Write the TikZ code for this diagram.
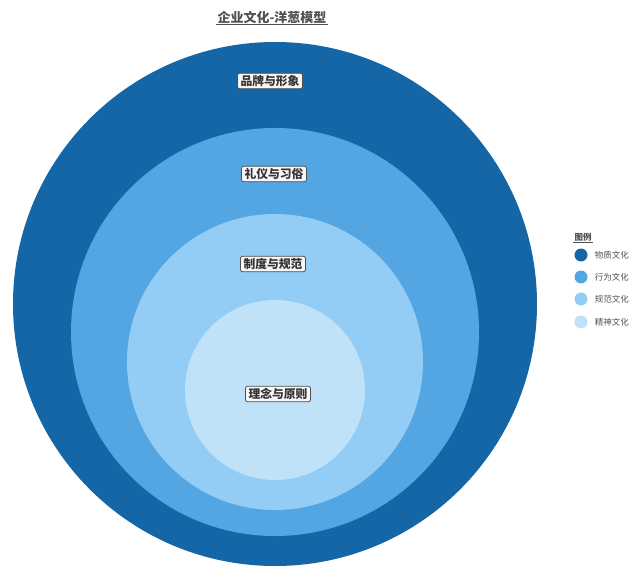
\documentclass[tikz,border=0pt]{standalone}
\usepackage{fontspec}
\setmainfont{Noto Sans CJK SC}
\usetikzlibrary{positioning}

\definecolor{wuzhi}{RGB}{21,102,166}
\definecolor{xingwei}{RGB}{84,166,226}
\definecolor{zhidu}{RGB}{147,205,245}
\definecolor{linian}{RGB}{192,226,249}
\definecolor{txtgray}{RGB}{80,80,80}

\tikzset{
  layer/.style={circle, inner sep=0pt},
  tag/.style={draw=txtgray, fill=gray!6, rounded corners=2pt, line width=0.8pt,
    inner xsep=3pt, inner ysep=2pt, text=black!80,
    font=\bfseries\fontsize{11.8}{14}\selectfont},
  keydot/.style={circle, inner sep=0pt, minimum size=13pt},
  keytext/.style={text=txtgray, font=\fontsize{8.5}{10}\selectfont, inner sep=1pt}
}

\begin{document}
\begin{tikzpicture}[x=1pt, y=-1pt]
            \useasboundingbox (0,0) rectangle (640,572);

            % Title
            \node[text=txtgray, font=\bfseries\fontsize{13}{15}\selectfont, inner sep=1pt] (title) at (272,17) {企业文化-洋葱模型};
            \draw[txtgray, line width=0.7pt] (title.south west) -- (title.south east);

            % Layers
            \node[layer, fill=wuzhi, minimum size=524pt] (l1) at (275,304) {};
            \node[layer, fill=xingwei, minimum size=408pt] (l2) at (275,332) {};
            \node[layer, fill=zhidu, minimum size=296pt] (l3) at (275,362) {};
            \node[layer, fill=linian, minimum size=180pt] (l4) at (275,390) {};

            % Labels
            \node[tag] (t1) at (270,81) {品牌与形象};
            \node[tag] (t2) at (274,174) {礼仪与习俗};
            \node[tag] (t3) at (273,264) {制度与规范};
            \node[tag] (t4) at (278,394) {理念与原则};

            % Legend
            \node[keytext, font=\bfseries\fontsize{8.5}{10}\selectfont] (key) at (583,237) {图例};
            \draw[txtgray, line width=0.5pt] (key.south west) -- (key.south east);
            \node[keydot, fill=wuzhi] (d1) at (581,255) {};
            \node[keydot, fill=xingwei] (d2) at (581,277) {};
            \node[keydot, fill=zhidu] (d3) at (581,299) {};
            \node[keydot, fill=linian] (d4) at (581,322) {};
            \node[keytext, right=6pt of d1] (k1) {物质文化};
            \node[keytext, right=6pt of d2] (k2) {行为文化};
            \node[keytext, right=6pt of d3] (k3) {规范文化};
            \node[keytext, right=6pt of d4] (k4) {精神文化};
\end{tikzpicture}
\end{document}
